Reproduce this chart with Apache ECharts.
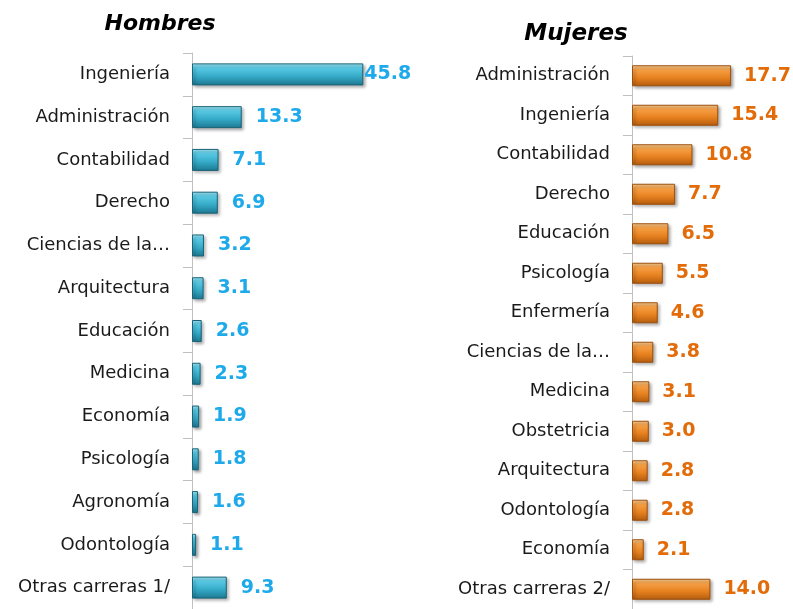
<!DOCTYPE html>
<html>
<head>
<meta charset="utf-8">
<script src="https://cdn.jsdelivr.net/npm/echarts@6/dist/echarts.min.js"></script>
<style>
  html, body { margin: 0; padding: 0; background: #ffffff; }
  #chart { width: 793px; height: 609px; }
</style>
</head>
<body>
<div id="chart"></div>
<script>
// Hombres
const menCategories = ["Ingeniería", "Administración", "Contabilidad", "Derecho", "Ciencias de la…",
  "Arquitectura", "Educación", "Medicina", "Economía", "Psicología", "Agronomía", "Odontología",
  "Otras carreras 1/"];
const menValues = [45.8, 13.3, 7.1, 6.9, 3.2, 3.1, 2.6, 2.3, 1.9, 1.8, 1.6, 1.1, 9.3];

// Mujeres
const womenCategories = ["Administración", "Ingeniería", "Contabilidad", "Derecho", "Educación",
  "Psicología", "Enfermería", "Ciencias de la…", "Medicina", "Obstetricia", "Arquitectura",
  "Odontología", "Economía", "Otras carreras 2/"];
const womenValues = [17.7, 15.4, 10.8, 7.7, 6.5, 5.5, 4.6, 3.8, 3.1, 3.0, 2.8, 2.8, 2.1, 14.0];

let myChart = echarts.init(document.getElementById("chart"));

const font = "DejaVu Sans";

function barFill(stops) {
  return new echarts.graphic.LinearGradient(0, 0, 0, 1, stops.map((c) => ({ offset: c[0], color: c[1] })));
}

const blueFill = barFill([[0, "#a4ecfa"], [0.22, "#58c9e4"], [0.6, "#34a9c6"], [1, "#1c7790"]]);
const orangeFill = barFill([[0, "#fdd49a"], [0.22, "#f6a046"], [0.6, "#e7811f"], [1, "#b35c0e"]]);

function catAxis(gridIndex, data) {
  return {
    type: "category",
    gridIndex: gridIndex,
    inverse: true,
    data: data,
    axisLine: { show: true, lineStyle: { color: "#c0c0c0", width: 1 } },
    axisTick: { show: true, length: 9, lineStyle: { color: "#c0c0c0" } },
    axisLabel: { margin: 22, fontFamily: font, fontSize: 18, color: "#1a1a1a" },
  };
}

function valAxis(gridIndex, max) {
  return {
    type: "value",
    gridIndex: gridIndex,
    min: 0,
    max: max,
    show: false,
    splitLine: { show: false },
  };
}

let option = {
  backgroundColor: "#ffffff",
  animation: false,
  title: [
    {
      text: "Hombres",
      left: 155,
      top: 8,
      textAlign: "center",
      textStyle: { fontFamily: font, fontSize: 22, fontWeight: "bold", fontStyle: "italic", color: "#000" },
    },
    {
      text: "Mujeres",
      left: 571,
      top: 18,
      textAlign: "center",
      textStyle: { fontFamily: font, fontSize: 23, fontWeight: "bold", fontStyle: "italic", color: "#000" },
    },
  ],
  grid: [
    { left: 192, top: 53, width: 187, height: 563 },
    { left: 632, top: 56, width: 140, height: 561 },
  ],
  xAxis: [valAxis(0, 50), valAxis(1, 25)],
  yAxis: [catAxis(0, menCategories), catAxis(1, womenCategories)],
  series: [
    {
      name: "Hombres",
      type: "bar",
      xAxisIndex: 0,
      yAxisIndex: 0,
      barWidth: 22,
      data: menValues.map((v) => ({
        value: v,
        label: { distance: v > 40 ? 1 : 14 },
      })),
      itemStyle: {
        color: blueFill,
        borderColor: "#1a6378",
        borderWidth: 1,
        shadowColor: "rgba(0,0,0,0.35)",
        shadowBlur: 3,
        shadowOffsetX: 2,
        shadowOffsetY: 2,
      },
      label: {
        show: true,
        position: "right",
        formatter: (p) => p.value.toFixed(1),
        fontFamily: font,
        fontSize: 19,
        fontWeight: "bold",
        color: "#1eaaea",
      },
    },
    {
      name: "Mujeres",
      type: "bar",
      xAxisIndex: 1,
      yAxisIndex: 1,
      barWidth: 21,
      data: womenValues,
      itemStyle: {
        color: orangeFill,
        borderColor: "#9c4f0c",
        borderWidth: 1,
        shadowColor: "rgba(0,0,0,0.35)",
        shadowBlur: 3,
        shadowOffsetX: 2,
        shadowOffsetY: 2,
      },
      label: {
        show: true,
        position: "right",
        distance: 13,
        formatter: (p) => p.value.toFixed(1),
        fontFamily: font,
        fontSize: 19,
        fontWeight: "bold",
        color: "#e36c0a",
      },
    },
  ],
};
myChart.setOption(option);
</script>
</body>
</html>
